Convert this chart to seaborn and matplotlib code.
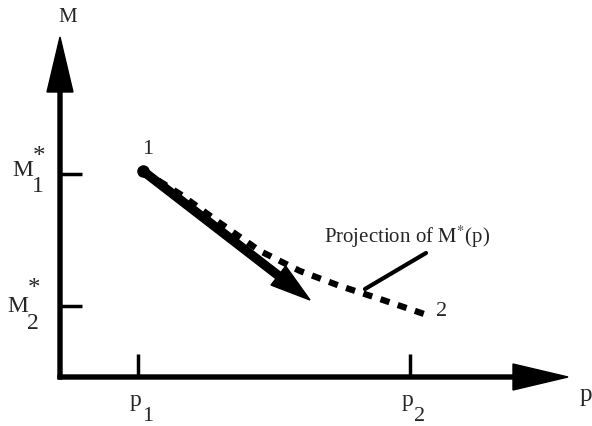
import matplotlib
matplotlib.use("Agg")
import matplotlib.pyplot as plt
import seaborn as sns
import pandas as pd

# schematic values (plot units ~ pixels of the reference, y measured from bottom)
p_ticks = [138, 410]
p_subs = ["1", "2"]
m_ticks = [252, 120]
m_subs = ["1", "2"]

# projection of M*(p), dotted path from state 1 to state 2
proj_p = [143, 180, 220, 260, 300, 340, 380, 430]
proj_m = [255, 232, 203, 175, 155, 140, 127, 110]

# straight path (thick arrow) from state 1
path_start = (143, 255)
path_end = (310, 126)

sns.set_theme(style="white")
plt.rcParams["font.family"] = ["Liberation Serif", "DejaVu Serif"]
plt.rcParams["mathtext.fontset"] = "stix"

fig = plt.figure(figsize=(5.92, 4.27), dpi=100)
ax = fig.add_axes([0, 0, 1, 1])
ax.set_xlim(0, 592)
ax.set_ylim(0, 427)
ax.axis("off")

df = pd.DataFrame({"p": proj_p, "M": proj_m})
sns.lineplot(data=df, x="p", y="M", ax=ax, color="black", lw=4.5,
             linestyle=(0, (1.5, 1.4)), sort=False)

# axes drawn as arrows
ax.arrow(60, 47, 0, 342, width=4, head_width=26, head_length=55,
         length_includes_head=True, color="black")
ax.arrow(58, 49, 510, 0, width=4, head_width=26, head_length=55,
         length_includes_head=True, color="black")

# thick arrow from state 1
ax.arrow(path_start[0], path_start[1], path_end[0] - path_start[0],
         path_end[1] - path_start[1], width=8, head_width=24,
         head_length=40, length_includes_head=True, color="black")
ax.plot([path_start[0]], [path_start[1]], "o", color="black", ms=8)

# ticks
for x in p_ticks:
    ax.plot([x, x], [49, 72], color="black", lw=2.5, solid_capstyle="butt")
for y in m_ticks:
    ax.plot([60, 82], [y, y], color="black", lw=2.5, solid_capstyle="butt")

fs = 16
for x, s in zip(p_ticks, p_subs):
    ax.text(x - 3, 26, "p", fontsize=fs + 1, ha="center", va="center")
    ax.text(x + 10, 10, s, fontsize=fs, ha="center", va="center")
for y, s in zip(m_ticks, m_subs):
    xm = 23 if s == "1" else 18
    ym = y + 5 if s == "1" else y
    ax.text(xm, ym, "M", fontsize=fs + 1, ha="center", va="center")
    ax.text(xm + 16, y + 18, "*", fontsize=fs + 2, ha="center", va="center")
    ax.text(xm + 15, ym - 17, s, fontsize=fs + 1, ha="center", va="center")

ax.text(68, 410, "M", fontsize=fs - 1, ha="center", va="center")
ax.text(586, 32, "p", fontsize=fs + 2, ha="center", va="center")
ax.text(148, 278, "1", fontsize=fs, ha="center", va="center")
ax.text(442, 115, "2", fontsize=fs, ha="center", va="center")

ax.text(324, 190, r"Projection of $\mathrm{M}^{*}$(p)", fontsize=fs - 1,
        ha="left", va="center")
ax.plot([365, 426], [137, 173], color="black", lw=3)

fig.savefig("out.png", dpi=100)
